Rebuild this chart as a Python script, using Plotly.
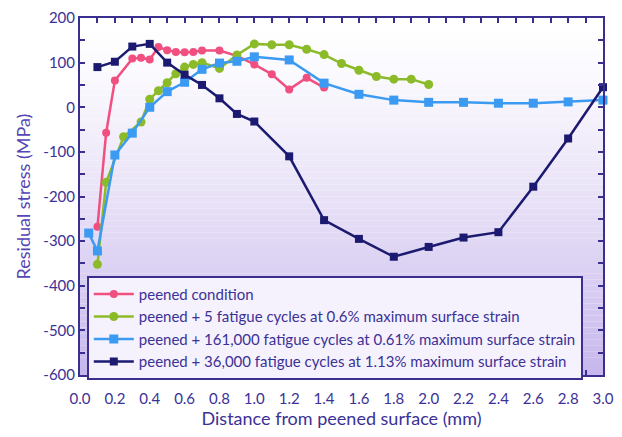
import plotly.graph_objects as go

# Residual stress profiles vs depth below the peened surface
pink_x = [0.1, 0.15, 0.2, 0.3, 0.35, 0.4, 0.45, 0.5, 0.55, 0.6, 0.65, 0.7, 0.8, 0.9, 1.0, 1.1, 1.2, 1.3, 1.4]
pink_y = [-268, -57, 60, 109, 111, 107, 135, 128, 124, 123, 124, 127, 127, 115, 96, 74, 40, 66, 44]

green_x = [0.1, 0.15, 0.25, 0.35, 0.4, 0.45, 0.5, 0.55, 0.6, 0.65, 0.7, 0.8, 0.9, 1.0, 1.1, 1.2, 1.3, 1.4, 1.5, 1.6, 1.7, 1.8, 1.9, 2.0]
green_y = [-352, -168, -66, -33, 18, 37, 55, 75, 90, 96, 100, 87, 117, 142, 140, 140, 130, 118, 98, 83, 69, 63, 63, 51]

blue_x = [0.05, 0.1, 0.2, 0.3, 0.4, 0.5, 0.6, 0.7, 0.8, 0.9, 1.0, 1.2, 1.4, 1.6, 1.8, 2.0, 2.2, 2.4, 2.6, 2.8, 3.0]
blue_y = [-282, -322, -107, -58, 0, 35, 56, 85, 99, 103, 113, 106, 54, 29, 16, 11, 11, 9, 9, 12, 16]

navy_x = [0.1, 0.2, 0.3, 0.4, 0.5, 0.6, 0.7, 0.8, 0.9, 1.0, 1.2, 1.4, 1.6, 1.8, 2.0, 2.2, 2.4, 2.6, 2.8, 3.0]
navy_y = [90, 102, 136, 142, 100, 73, 50, 20, -15, -32, -110, -253, -295, -335, -313, -292, -280, -178, -70, 45]

series_names = [
    "peened condition",
    "peened + 5 fatigue cycles at 0.6% maximum surface strain",
    "peened + 161,000 fatigue cycles at 0.61% maximum surface strain",
    "peened + 36,000 fatigue cycles at 1.13% maximum surface strain",
]

x_tick_vals = [round(i * 0.1, 1) for i in range(31)]
x_tick_text = [f"{v:.1f}" if i % 2 == 0 else "" for i, v in enumerate(x_tick_vals)]
y_tick_vals = list(range(-600, 201, 50))
y_tick_text = [str(v) if v % 100 == 0 else "" for v in y_tick_vals]

INK = "#3a2f8f"
TEXT = "#3b3196"
FONT = "Lato"

fig = go.Figure()

series = [
    (pink_x, pink_y, "#f04f80", "circle", 8),
    (green_x, green_y, "#8cbb2a", "circle", 9),
    (blue_x, blue_y, "#3b9af2", "square", 9),
    (navy_x, navy_y, "#1b1a70", "square", 8),
]
for (xs, ys, col, sym, size), name in zip(series, series_names):
    fig.add_trace(go.Scatter(
        x=xs, y=ys, name=name, mode="lines+markers",
        line=dict(color=col, width=2.5),
        marker=dict(color=col, symbol=sym, size=size),
        cliponaxis=False,
    ))

# vertical white-to-lavender wash behind the plot area
n = 60
top = (255, 255, 255)
bot = (199, 183, 236)
for i in range(n):
    t = i / (n - 1)
    w = t ** 1.3
    c = tuple(round(top[k] + (bot[k] - top[k]) * w) for k in range(3))
    fig.add_shape(
        type="rect", xref="x domain", yref="y domain",
        x0=0, x1=1, y0=1 - (i + 1) / n, y1=1 - i / n,
        fillcolor=f"rgb{c}", line=dict(width=0), layer="below",
    )

axis_common = dict(
    showline=True, mirror="ticks", linecolor=INK, linewidth=2,
    ticks="inside", ticklen=5, tickwidth=1.5, tickcolor=INK,
    showgrid=False, zeroline=False,
    ticklabeloverflow="allow",
    tickfont=dict(family=FONT, size=15, color=TEXT),
)

fig.update_layout(
    width=622, height=437,
    margin=dict(l=80, r=8, t=18, b=62),
    paper_bgcolor="white", plot_bgcolor="rgba(0,0,0,0)",
    xaxis=dict(
        range=[0, 3.0], tickmode="array", tickvals=x_tick_vals, ticktext=x_tick_text,
        ticklabelstandoff=9,
        title=dict(text="Distance from peened surface (mm)", standoff=2,
                   font=dict(family=FONT, size=18, color=TEXT)),
        **axis_common,
    ),
    yaxis=dict(
        range=[-600, 200], tickmode="array", tickvals=y_tick_vals, ticktext=y_tick_text,
        title=dict(text="Residual stress (MPa)", standoff=8,
                   font=dict(family=FONT, size=18, color="#5546b5")),
        **axis_common,
    ),
    legend=dict(
        x=0.013, y=0.278, xanchor="left", yanchor="top",
        bgcolor="#f6f2fd", bordercolor=INK, borderwidth=2,
        font=dict(family=FONT, size=15, color=TEXT),
        tracegroupgap=0, itemwidth=40,
    ),
    showlegend=True,
)

fig.write_html("out.html")
